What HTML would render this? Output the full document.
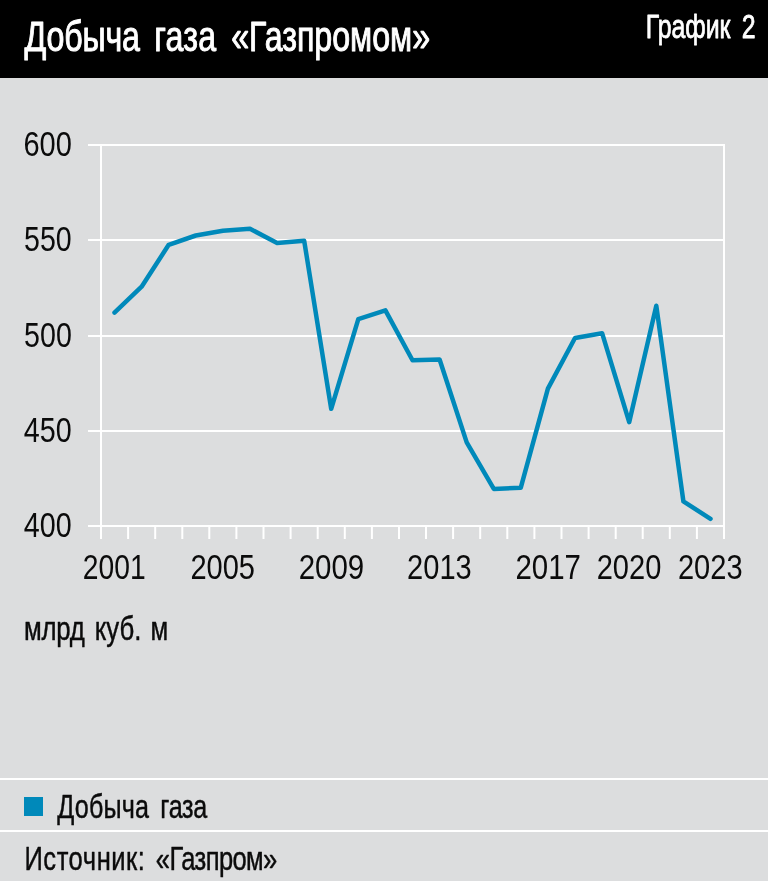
<!DOCTYPE html>
<html lang="ru"><head><meta charset="utf-8"><title>Добыча газа «Газпромом»</title>
<style>
html,body{margin:0;padding:0}
body{width:768px;height:881px;background:#dcddde;overflow:hidden}
svg{display:block}
text{font-family:"Liberation Sans",sans-serif;white-space:pre}
</style></head><body>
<svg width="768" height="881" viewBox="0 0 768 881">
<rect x="0" y="0" width="768" height="881" fill="#dcddde"/>
<rect x="0" y="0" width="768" height="78" fill="#000"/>
<g stroke="#fff" stroke-width="2" fill="none">
<line x1="88" y1="145" x2="725" y2="145"/><line x1="88" y1="240" x2="725" y2="240"/><line x1="88" y1="336" x2="725" y2="336"/><line x1="88" y1="431" x2="725" y2="431"/><line x1="88" y1="526" x2="725" y2="526"/>
<line x1="101" y1="145" x2="101" y2="539"/><line x1="724" y1="145" x2="724" y2="539"/>
<line x1="128.1" y1="526" x2="128.1" y2="539"/><line x1="155.2" y1="526" x2="155.2" y2="539"/><line x1="182.3" y1="526" x2="182.3" y2="539"/><line x1="209.3" y1="526" x2="209.3" y2="539"/><line x1="236.4" y1="526" x2="236.4" y2="539"/><line x1="263.5" y1="526" x2="263.5" y2="539"/><line x1="290.6" y1="526" x2="290.6" y2="539"/><line x1="317.7" y1="526" x2="317.7" y2="539"/><line x1="344.8" y1="526" x2="344.8" y2="539"/><line x1="371.9" y1="526" x2="371.9" y2="539"/><line x1="399.0" y1="526" x2="399.0" y2="539"/><line x1="426.0" y1="526" x2="426.0" y2="539"/><line x1="453.1" y1="526" x2="453.1" y2="539"/><line x1="480.2" y1="526" x2="480.2" y2="539"/><line x1="507.3" y1="526" x2="507.3" y2="539"/><line x1="534.4" y1="526" x2="534.4" y2="539"/><line x1="561.5" y1="526" x2="561.5" y2="539"/><line x1="588.6" y1="526" x2="588.6" y2="539"/><line x1="615.7" y1="526" x2="615.7" y2="539"/><line x1="642.7" y1="526" x2="642.7" y2="539"/><line x1="669.8" y1="526" x2="669.8" y2="539"/><line x1="696.9" y1="526" x2="696.9" y2="539"/>
</g>
<polyline points="114.5,312.6 141.6,286.7 168.7,244.8 195.8,235.5 222.9,230.7 250.0,228.8 277.1,242.9 304.2,240.8 331.2,408.8 358.3,319.1 385.4,310.4 412.5,360.3 439.6,359.5 466.7,442.4 493.8,488.9 520.8,487.7 547.9,388.6 575.0,338.0 602.1,333.2 629.2,422.2 656.3,305.8 683.4,501.4 710.5,518.8" fill="none" stroke="#0089ba" stroke-width="4.5" stroke-linejoin="round" stroke-linecap="round"/>
<rect x="0" y="778" width="768" height="2" fill="#fff"/>
<rect x="0" y="830" width="768" height="2" fill="#fff"/>
<rect x="24" y="797" width="19" height="19" fill="#0089ba"/>
<text transform="translate(0,50.90) scale(0.7566,1)" font-size="42.5" fill="#fff" stroke="#fff" stroke-width="1.0" vector-effect="non-scaling-stroke" stroke-linejoin="round"><tspan x="32.51" letter-spacing="-0.202">Добыча</tspan> <tspan x="203.92" letter-spacing="0.294">газа</tspan> <tspan x="305.50" letter-spacing="0.010">«Газпромом»</tspan></text>
<text transform="translate(0,38.30) scale(0.7544,1)" font-size="33" fill="#fff" stroke="#fff" stroke-width="0.8" vector-effect="non-scaling-stroke" stroke-linejoin="round"><tspan x="856.15" letter-spacing="-0.125">График</tspan> <tspan x="983.36">2</tspan></text>
<text transform="translate(0,640.40) scale(0.7956,1)" font-size="32.4" fill="#0b0b0b" stroke="#0b0b0b" stroke-width="0.45" vector-effect="non-scaling-stroke" stroke-linejoin="round"><tspan x="30.21" letter-spacing="-0.280">млрд</tspan> <tspan x="119.20" letter-spacing="-0.052">куб.</tspan> <tspan x="189.05">м</tspan></text>
<text transform="translate(0,817.50) scale(0.7740,1)" font-size="32.5" fill="#0b0b0b" stroke="#0b0b0b" stroke-width="0.45" vector-effect="non-scaling-stroke" stroke-linejoin="round"><tspan x="73.94" letter-spacing="0.244">Добыча</tspan> <tspan x="207.21" letter-spacing="-0.418">газа</tspan></text>
<text transform="translate(0,869.90) scale(0.7858,1)" font-size="32.5" fill="#0b0b0b" stroke="#0b0b0b" stroke-width="0.45" vector-effect="non-scaling-stroke" stroke-linejoin="round"><tspan x="31.12" letter-spacing="0.699">Источник:</tspan> <tspan x="198.31" letter-spacing="-0.755">«Газпром»</tspan></text>
<text transform="translate(0,156.30) scale(0.8226,1)" font-size="35.3" fill="#0b0b0b"><tspan x="28.54">600</tspan></text>
<text transform="translate(0,251.30) scale(0.8086,1)" font-size="35.3" fill="#0b0b0b"><tspan x="29.79">550</tspan></text>
<text transform="translate(0,347.30) scale(0.8103,1)" font-size="35.3" fill="#0b0b0b"><tspan x="29.73">500</tspan></text>
<text transform="translate(0,442.30) scale(0.8136,1)" font-size="35.3" fill="#0b0b0b"><tspan x="29.25">450</tspan></text>
<text transform="translate(0,537.30) scale(0.8136,1)" font-size="35.3" fill="#0b0b0b"><tspan x="29.25">400</tspan></text>
<text transform="translate(0,578.60) scale(0.7998,1)" font-size="35.3" fill="#0b0b0b"><tspan x="103.51">2001</tspan></text>
<text transform="translate(0,578.60) scale(0.8232,1)" font-size="35.3" fill="#0b0b0b"><tspan x="231.30">2005</tspan></text>
<text transform="translate(0,578.60) scale(0.8341,1)" font-size="35.3" fill="#0b0b0b"><tspan x="358.18">2009</tspan></text>
<text transform="translate(0,578.60) scale(0.8232,1)" font-size="35.3" fill="#0b0b0b"><tspan x="494.53">2013</tspan></text>
<text transform="translate(0,578.60) scale(0.8341,1)" font-size="35.3" fill="#0b0b0b"><tspan x="617.98">2017</tspan></text>
<text transform="translate(0,578.60) scale(0.8232,1)" font-size="35.3" fill="#0b0b0b"><tspan x="724.85">2020</tspan></text>
<text transform="translate(0,578.60) scale(0.8232,1)" font-size="35.3" fill="#0b0b0b"><tspan x="823.56">2023</tspan></text>
</svg>
</body></html>
